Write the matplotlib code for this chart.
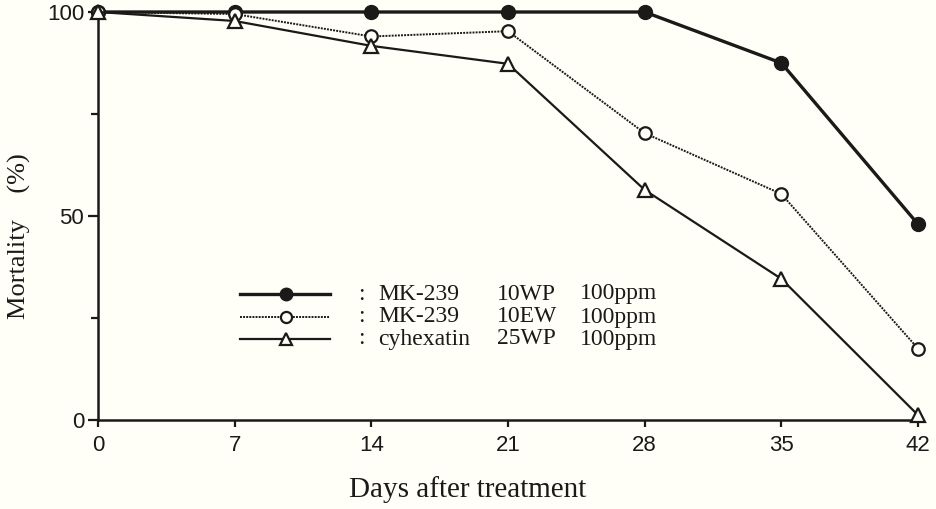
import matplotlib
matplotlib.use("Agg")
import matplotlib.pyplot as plt

days = [0, 7, 14, 21, 28, 35, 42]
mk239_wp = [100, 100, 100, 100, 100, 87.5, 48]
mk239_ew = [100, 99.5, 94, 95.3, 70.3, 55.4, 17.5]
cyhexatin = [100, 97.8, 91.7, 87.3, 56.4, 34.6, 1.2]

legend_names = ["MK-239", "MK-239", "cyhexatin"]
legend_forms = ["10WP", "10EW", "25WP"]
legend_doses = ["100ppm", "100ppm", "100ppm"]

ink = "#1c1a18"
bg = "#fffef7"
serif = ["Liberation Serif", "DejaVu Serif"]
sans = ["Liberation Sans", "DejaVu Sans"]

styles = [
    dict(color=ink, lw=2.4, ls="-", marker="o", ms=10, mfc=ink, mec=ink),
    dict(color=ink, lw=1.4, ls=(0, (1, 0.6)), marker="o", ms=9, mfc=bg, mec=ink, mew=1.6),
    dict(color=ink, lw=1.6, ls="-", marker="^", ms=10, mfc=bg, mec=ink, mew=1.6),
]

fig = plt.figure(figsize=(9.37, 5.09), dpi=100, facecolor=bg)
W, H = 937, 509
x0, x1, y0, y1 = 98, 918, 420, 12
ax = fig.add_axes([x0 / W, 1 - y0 / H, (x1 - x0) / W, (y0 - y1) / H])
ax.set_facecolor(bg)

for ys, st in zip([mk239_wp, mk239_ew, cyhexatin], styles):
    ax.plot(days, ys, clip_on=False, zorder=3, **st)

ax.set_xlim(0, 42)
ax.set_ylim(0, 100)
ax.set_xticks(days)
ax.set_yticks([0, 50, 100])
ax.set_yticks([25, 75], minor=True)
for side in ["top", "right"]:
    ax.spines[side].set_visible(False)
for side in ["left", "bottom"]:
    ax.spines[side].set_linewidth(1.8)
    ax.spines[side].set_color(ink)
ax.tick_params(axis="both", which="both", colors=ink, width=1.6, labelsize=16)
ax.tick_params(axis="x", length=5, pad=6)
ax.tick_params(axis="y", which="major", length=7, pad=3)
ax.tick_params(axis="y", which="minor", length=5)
for lab in ax.get_xticklabels() + ax.get_yticklabels():
    lab.set_family(sans)

ax.set_xlabel("Days after treatment", family=serif, fontsize=21, color=ink)
ax.xaxis.set_label_coords((468 - x0) / (x1 - x0), (y0 - 476) / (y0 - y1))
ax.set_ylabel("Mortality    (%)", family=serif, fontsize=19, color=ink)
ax.yaxis.set_label_coords((31 - x0) / (x1 - x0), (y0 - 236) / (y0 - y1))

# hand-drawn key, as in the original figure
rows_py = [294, 317, 339]
for py, st, name, form, dose in zip(rows_py, styles, legend_names, legend_forms, legend_doses):
    fy = (y0 - py) / (y0 - y1)
    fx = lambda px: (px - x0) / (x1 - x0)
    ax.plot([fx(240), fx(330)], [fy, fy], transform=ax.transAxes,
            color=st["color"], lw=st["lw"], ls=st["ls"], clip_on=False)
    ax.plot([fx(286)], [fy], transform=ax.transAxes, ls="none",
            marker=st["marker"], ms=st["ms"] - 1, mfc=st["mfc"], mec=st["mec"],
            mew=st.get("mew", 1), clip_on=False)
    kw = dict(transform=ax.transAxes, family=serif, fontsize=17, color=ink, va="center")
    ax.text(fx(358), fy, ":", **kw)
    ax.text(fx(378), fy, name, **kw)
    ax.text(fx(497), fy, form, **kw)
    ax.text(fx(580), fy, dose, **kw)

fig.savefig("out.png", dpi=100, facecolor=bg)
